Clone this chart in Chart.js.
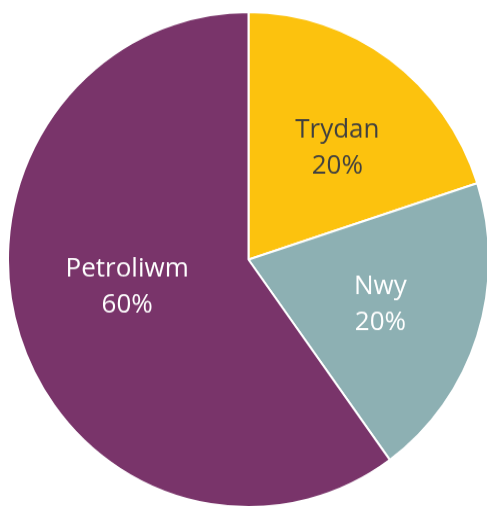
<!DOCTYPE html>
<html>
<head>
<meta charset="utf-8">
<script src="https://cdn.jsdelivr.net/npm/chart.js@4/dist/chart.umd.min.js"></script>
<style>
  html, body { margin: 0; padding: 0; background: #fff; }
  body { width: 487px; height: 506px; overflow: hidden; position: relative; }
  #wrap {
    position: absolute; left: 7px; top: 10.5px;
    width: 483px; height: 483px;
    transform: scaleY(1.0293); transform-origin: top left;
  }
</style>
</head>
<body>
<div id="wrap"><canvas id="pieChart" width="483" height="483"></canvas></div>
<script>
'use strict';

var categories = ['Trydan', 'Nwy', 'Petroliwm'];
var shares = [20, 20, 60];
var sliceColors = ['#fcc20e', '#8db0b3', '#79346a'];
var labelColors = ['#404040', '#ffffff', '#ffffff'];

// label placement inside each slice: fraction of radius, angle nudge (deg), vertical shift (px)
var labelRadius = [0.60, 0.58, 0.52];
var labelNudge = [2, 1, 4];
var labelShift = [5, -2, -4];

// writes name + percentage inside each slice
var sliceLabels = {
    id: 'sliceLabels',
    afterDatasetsDraw: function (chart) {
        var ctx = chart.ctx;
        var arcs = chart.getDatasetMeta(0).data;
        ctx.save();
        ctx.textAlign = 'center';
        ctx.textBaseline = 'middle';
        ctx.font = '26px "Open Sans", "Noto Sans", sans-serif';
        arcs.forEach(function (arc, i) {
            var p = arc.getProps(['x', 'y', 'startAngle', 'endAngle', 'outerRadius'], true);
            var mid = (p.startAngle + p.endAngle) / 2 + labelNudge[i] * Math.PI / 180;
            var r = p.outerRadius * labelRadius[i];
            var x = p.x + Math.cos(mid) * r;
            var y = p.y + Math.sin(mid) * r + labelShift[i];
            ctx.fillStyle = labelColors[i];
            ctx.fillText(categories[i], x, y - 17.5);
            ctx.fillText(shares[i] + '%', x, y + 17.5);
        });
        ctx.restore();
    }
};

new Chart(document.getElementById('pieChart').getContext('2d'), {
    type: 'pie',
    data: {
        labels: categories,
        datasets: [{
            data: shares,
            backgroundColor: sliceColors,
            borderColor: '#ffffff',
            borderWidth: 2
        }]
    },
    options: {
        responsive: false,
        animation: false,
        layout: { padding: 0 },
        plugins: {
            legend: { display: false },
            tooltip: { enabled: false }
        }
    },
    plugins: [sliceLabels]
});
</script>
</body>
</html>
